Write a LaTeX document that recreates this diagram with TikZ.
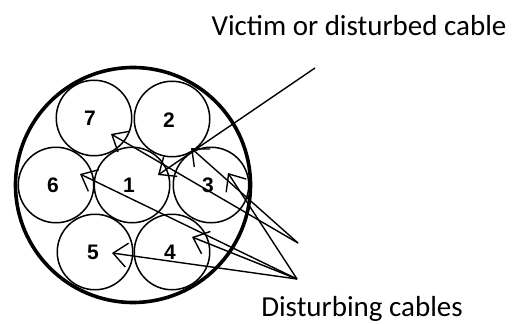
\documentclass[tikz,border=0pt]{standalone}
\usepackage{fontspec}
\setmainfont{Liberation Sans}
\newfontfamily\captionfont{Carlito}
\usetikzlibrary{arrows.meta}
\tikzset{
    wire/.style={draw, circle, line width=1.5pt, minimum size=75.5pt, inner sep=0pt},
    num/.style={font=\fontsize{21}{23}\selectfont\bfseries},
    captxt/.style={anchor=base, font=\captionfont\fontsize{29}{32}\selectfont},
    lead/.style={line width=1.4pt, -{Straight Barb[length=14pt, width=24pt, line width=1.4pt]}}
}
\begin{document}
\begin{tikzpicture}[x=1pt, y=-1pt]
    \useasboundingbox (0,0) rectangle (520,324);
    \node[captxt] (victim) at (359, 35) {Victim or disturbed cable};
    \node[captxt] (disturbing) at (362, 316) {Disturbing cables};

    \node[draw, circle, line width=3.6pt, minimum size=235pt, inner sep=0pt] (sheath) at (133, 185) {};

    \node[wire] (C1) at (132, 185) {};
    \node[wire] (C2) at (172, 119) {};
    \node[wire] (C3) at (211, 185) {};
    \node[wire] (C4) at (172, 252) {};
    \node[wire] (C5) at (95, 252) {};
    \node[wire] (C6) at (56, 185) {};
    \node[wire] (C7) at (94, 118) {};

    \node[num] (N1) at (129, 185) {1};
    \node[num] (N2) at (169, 120) {2};
    \node[num] (N3) at (208, 185) {3};
    \node[num] (N4) at (170, 252) {4};
    \node[num] (N5) at (93, 252) {5};
    \node[num] (N6) at (53, 185) {6};
    \node[num] (N7) at (90, 118) {7};

    \coordinate (VS) at (315, 68);
    \coordinate (UP) at (298, 243);
    \coordinate (LO) at (297, 279);
    \coordinate (T1) at (158, 175);
    \coordinate (T2) at (191, 148);
    \coordinate (T3) at (228, 173);
    \coordinate (T4) at (192, 237);
    \coordinate (T5) at (112, 253);
    \coordinate (T6) at (80, 174);
    \coordinate (T7) at (111, 134);

    \draw[lead] (VS) -- (T1);
    \draw[lead] (UP) -- (T2);
    \draw[lead] (UP) -- (T7);
    \draw[lead] (LO) -- (T3);
    \draw[lead] (LO) -- (T4);
    \draw[lead] (LO) -- (T5);
    \draw[lead] (LO) -- (T6);
\end{tikzpicture}
\end{document}
